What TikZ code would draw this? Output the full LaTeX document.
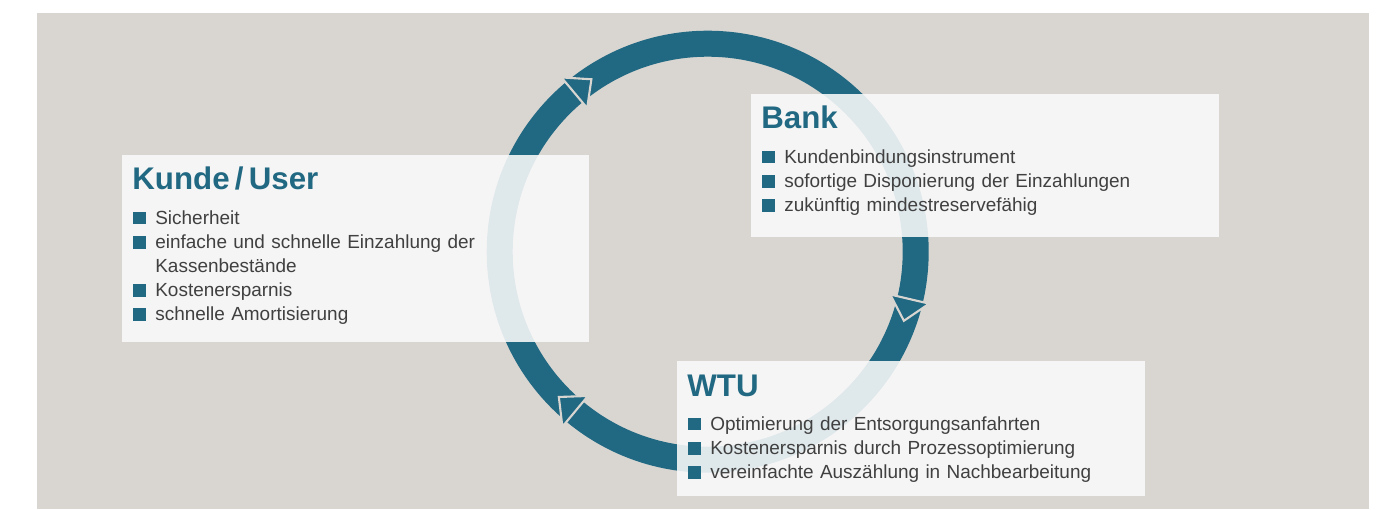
\documentclass[tikz,border=0pt]{standalone}
\usepackage{fontspec}
\setmainfont{Liberation Sans}
\usetikzlibrary{positioning}

\definecolor{wtublue}{RGB}{33,104,130}
\definecolor{backgray}{RGB}{217,214,210}
\definecolor{cardwhite}{RGB}{250,250,250}
\definecolor{textgray}{RGB}{64,64,64}

% one bullet line of a card
\newcommand{\bulitem}{\par\noindent\hangindent=12.5pt\hangafter=1\strut\makebox[12.5pt][l]{\textcolor{wtublue}{\rule{7pt}{7pt}}}}

\tikzset{
  ring/.style={draw=wtublue, line width=0.52cm},
  ringhead/.style={fill=wtublue, draw=backgray, line width=1.2pt, line join=miter},
  card/.style={anchor=north west, inner sep=0pt, fill=cardwhite, fill opacity=0.88, draw=none},
  cardtitle/.style={anchor=base west, inner sep=0pt, text=wtublue, font=\fontsize{17.8}{20}\selectfont\bfseries},
  cardlist/.style={anchor=north west, inner sep=0pt, text width=8.6cm, text=textgray, font=\fontsize{10.8}{13.7}\selectfont}
}

\begin{document}
\begin{tikzpicture}
  \useasboundingbox (0,0) rectangle (27.78,10.18);
  % background
  \fill[backgray] (0.74,0) rectangle (27.38,9.926);

  % cycle ring
  \coordinate (hub) at (14.154,5.146);
  \draw[ring] (hub) circle (4.16);

  % arrow heads on the ring
  \filldraw[ringhead] ([shift={(130:3.75)}]hub) -- ([shift={(130:4.55)}]hub) -- ([shift={(124:4.16)}]hub) -- cycle;
  \filldraw[ringhead] ([shift={(-13.2:3.75)}]hub) -- ([shift={(-13.2:4.55)}]hub) -- ([shift={(-19.4:4.16)}]hub) -- cycle;
  \filldraw[ringhead] ([shift={(230.3:3.75)}]hub) -- ([shift={(230.3:4.55)}]hub) -- ([shift={(224.3:4.16)}]hub) -- cycle;

  % Kunde / User
  \node[card, minimum width=9.34cm, minimum height=3.74cm] (kunde) at (2.44,7.08) {};
  \node[cardtitle] (kundetitle) at ([xshift=0.2cm,yshift=-0.68cm]kunde.north west) {Kunde\,/\,User};
  \node[cardlist] (kundelist) at ([xshift=0.22cm,yshift=-0.90cm]kunde.north west) {%
    \bulitem Sicherheit
    \bulitem einfache und schnelle Einzahlung der\newline Kassenbestände
    \bulitem Kostenersparnis
    \bulitem schnelle Amortisierung};

  % Bank
  \node[card, minimum width=9.36cm, minimum height=2.86cm] (bank) at (15.02,8.30) {};
  \node[cardtitle] (banktitle) at ([xshift=0.2cm,yshift=-0.68cm]bank.north west) {Bank};
  \node[cardlist] (banklist) at ([xshift=0.22cm,yshift=-0.90cm]bank.north west) {%
    \bulitem Kundenbindungsinstrument
    \bulitem sofortige Disponierung der Einzahlungen
    \bulitem zukünftig mindestreservefähig};

  % WTU
  \node[card, minimum width=9.36cm, minimum height=2.70cm] (wtu) at (13.54,2.96) {};
  \node[cardtitle] (wtutitle) at ([xshift=0.2cm,yshift=-0.70cm]wtu.north west) {WTU};
  \node[cardlist] (wtulist) at ([xshift=0.22cm,yshift=-0.90cm]wtu.north west) {%
    \bulitem Optimierung der Entsorgungsanfahrten
    \bulitem Kostenersparnis durch Prozessoptimierung
    \bulitem vereinfachte Auszählung in Nachbearbeitung};
\end{tikzpicture}
\end{document}
